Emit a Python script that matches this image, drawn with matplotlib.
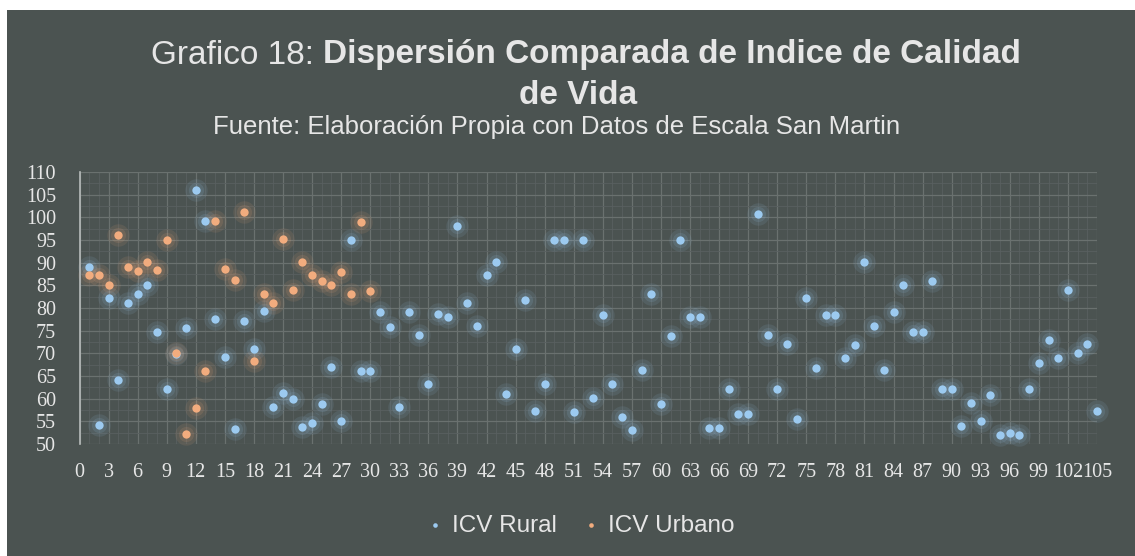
import matplotlib
matplotlib.use('Agg')
import matplotlib.pyplot as plt
from matplotlib.patches import Rectangle
from matplotlib.ticker import MultipleLocator

# ---------------- data ----------------
rural_x = list(range(1, 106))
rural_y = [89.0, 54.2, 82.2, 64.1, 81.2, 83.0, 85.1, 74.7, 62.1, 69.8,
           75.6, 106.0, 99.3, 77.6, 69.3, 53.3, 77.1, 70.9, 79.3, 58.2,
           61.2, 59.9, 53.8, 54.6, 58.9, 66.9, 55.1, 94.9, 66.1, 66.1,
           79.1, 75.8, 58.2, 79.1, 74.0, 63.2, 78.7, 78.0, 98.1, 81.1,
           76.0, 87.3, 90.1, 61.0, 71.0, 81.8, 57.3, 63.2, 95.1, 95.1,
           57.0, 95.1, 60.1, 78.5, 63.2, 56.0, 53.0, 66.3, 83.0, 58.8,
           73.9, 95.0, 78.0, 78.0, 53.6, 53.6, 62.1, 56.7, 56.7, 100.8,
           74.0, 62.1, 72.1, 55.5, 82.2, 66.8, 78.5, 78.5, 68.9, 71.8,
           90.1, 76.0, 66.3, 79.1, 85.1, 74.6, 74.6, 86.0, 62.1, 62.1,
           54.0, 59.0, 55.1, 60.8, 52.0, 52.4, 52.0, 62.1, 67.9, 72.9,
           68.9, 84.0, 70.1, 72.1, 57.3]
urban_x = list(range(1, 31))
urban_y = [87.3, 87.3, 85.1, 96.1, 89.1, 88.2, 90.1, 88.4, 95.0, 70.0,
           52.2, 58.0, 66.0, 99.3, 88.6, 86.2, 101.2, 68.2, 83.1, 81.0,
           95.2, 84.0, 90.1, 87.3, 86.0, 85.0, 87.9, 83.0, 98.9, 83.8]
x_ticks = list(range(0, 106, 3))
y_ticks = list(range(50, 111, 5))
series_names = ["ICV Rural", "ICV Urbano"]

title_normal = "Grafico 18: "
title_bold_1 = "Dispersión Comparada de Indice de Calidad"
title_bold_2 = "de Vida"
subtitle = "Fuente: Elaboración Propia con Datos de Escala San Martin"

# ---------------- style ----------------
BG = "#4b5351"
TXT = "#e6e6e6"
BLUE = "#9ccaf0"
ORANGE = "#f2ac7e"
W, H = 1135, 556

fig = plt.figure(figsize=(W / 100, H / 100), dpi=100, facecolor="white")
fig.patches.append(Rectangle((7 / W, 0), 1 - 7 / W, (H - 10) / H,
                             transform=fig.transFigure, facecolor=BG,
                             edgecolor="none", zorder=-10))

ax = fig.add_axes([79.5 / W, 112 / H, 1017.5 / W, 272 / H])
ax.set_facecolor("none")
ax.set_xlim(0, 105)
ax.set_ylim(50, 110)
ax.set_xticks(x_ticks)
ax.set_yticks(y_ticks)
ax.xaxis.set_minor_locator(MultipleLocator(1))
ax.yaxis.set_minor_locator(MultipleLocator(2.5))
ax.grid(True, which="major", color="#6a716f", linewidth=0.9)
ax.grid(True, which="minor", color="#596060", linewidth=0.6)
ax.set_axisbelow(True)
for s in ["top", "right", "bottom"]:
    ax.spines[s].set_visible(False)
ax.spines["left"].set_color("#b8bcbb")
ax.spines["left"].set_linewidth(1.2)
ax.tick_params(which="both", length=0, colors=TXT)
ax.tick_params(axis="x", pad=14)
ax.tick_params(axis="y", pad=17)
for lab in ax.get_xticklabels() + ax.get_yticklabels():
    lab.set_fontfamily("Liberation Serif")
    lab.set_fontsize(14.5)
    lab.set_color(TXT)

# glow + points
ax.scatter(rural_x, rural_y, s=260, color=BLUE, alpha=0.10, linewidths=0, clip_on=False, zorder=2)
ax.scatter(urban_x, urban_y, s=260, color=ORANGE, alpha=0.10, linewidths=0, clip_on=False, zorder=2)
ax.scatter(rural_x, rural_y, s=120, color=BLUE, alpha=0.12, linewidths=0, clip_on=False, zorder=2)
ax.scatter(urban_x, urban_y, s=120, color=ORANGE, alpha=0.12, linewidths=0, clip_on=False, zorder=2)
ax.scatter(rural_x, rural_y, s=36, color=BLUE, linewidths=0, clip_on=False, zorder=3, label=series_names[0])
ax.scatter(urban_x, urban_y, s=36, color=ORANGE, linewidths=0, clip_on=False, zorder=4, label=series_names[1])

leg = ax.legend(loc="center", bbox_to_anchor=(0.492, -0.30), ncol=2, frameon=False,
                prop={"family": "Liberation Sans", "size": 17.5}, markerscale=0.55,
                handlelength=0.8, handletextpad=0.3, columnspacing=1.0, labelcolor=TXT)

# title (mixed weight)
fig.canvas.draw()
r = fig.canvas.get_renderer()
TS = 24
y1 = 1 - 55 / H
t1 = fig.text(0, y1, title_normal, fontsize=TS, family="Liberation Sans", color=TXT, va="center", ha="left")
t2 = fig.text(0, y1, title_bold_1, fontsize=TS, family="Liberation Sans", weight="bold", color=TXT, va="center", ha="left")
w1 = t1.get_window_extent(r).width
w2 = t2.get_window_extent(r).width
cx = 586
start = cx - (w1 + w2) / 2
t1.set_x(start / W)
t2.set_x((start + w1) / W)
fig.text(578 / W, 1 - 95 / H, title_bold_2, fontsize=TS, family="Liberation Sans", weight="bold",
         color=TXT, va="center", ha="center")
fig.text(557 / W, 1 - 127 / H, subtitle, fontsize=18.5, family="Liberation Sans",
         color=TXT, va="center", ha="center")

fig.savefig("out.png", dpi=100, facecolor="white")
